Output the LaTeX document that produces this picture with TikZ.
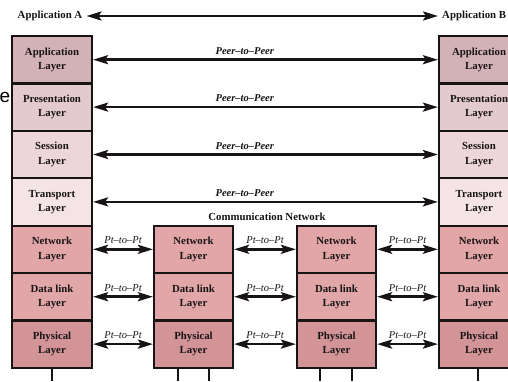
\documentclass[tikz,border=0pt]{standalone}
\usepackage{fontspec}
\setmainfont{Liberation Serif}
\newfontfamily\slidefont{Liberation Sans}
\usetikzlibrary{arrows.meta}
\definecolor{capp}{RGB}{210,178,182}
\definecolor{cpres}{RGB}{227,202,206}
\definecolor{csess}{RGB}{236,214,217}
\definecolor{ctrans}{RGB}{244,228,230}
\definecolor{cnet}{RGB}{226,166,168}
\definecolor{cdl}{RGB}{224,166,168}
\definecolor{cphys}{RGB}{210,148,151}
\definecolor{ink}{RGB}{25,20,20}
\tikzset{
  layer/.style={draw=ink, line width=2.2pt, minimum width=80pt, minimum height=47.4pt,
    inner sep=0pt, align=center, text=ink,
    font=\fontsize{10.8}{14.5}\selectfont\bfseries},
  midlayer/.style={layer, minimum width=79pt},
  link/.style={line width=2.6pt, draw=ink, {Stealth[length=15pt,width=9pt,inset=3pt]}-{Stealth[length=15pt,width=9pt,inset=3pt]}},
  peerlbl/.style={font=\fontsize{10.5}{12}\selectfont\bfseries\itshape, text=ink, inner sep=0pt},
  ptlbl/.style={font=\fontsize{10.5}{12}\selectfont\itshape, text=ink, inner sep=0pt},
  toplbl/.style={font=\fontsize{10.8}{12}\selectfont\bfseries, text=ink, inner sep=0pt},
  wire/.style={line width=2.4pt, draw=ink}
}
\begin{document}
\begin{tikzpicture}[x=1pt,y=-1pt]
\useasboundingbox (0,0) rectangle (508,381);
\clip (0,0) rectangle (508,381);
% fragment of slide text
\node[font=\slidefont\fontsize{19}{19}\selectfont, anchor=west, inner sep=0pt, text=black] (frag) at (-0.5,97) {e};
% top labels
\node[toplbl, anchor=center] (appA) at (50,16) {Application A};
\node[toplbl, anchor=west] (appB) at (442,16) {Application B};
\draw[link, shorten <=4pt, shorten >=4pt] (appA.east) -- (appB.west);
% stacks: left (x=52), right (x=479)
\foreach \nm/\cx in {L/52,R/479}{
  \node[layer, fill=capp]   (\nm1) at (\cx,59.7)  {Application\\Layer};
  \node[layer, fill=cpres]  (\nm2) at (\cx,107.1) {Presentation\\Layer};
  \node[layer, fill=csess]  (\nm3) at (\cx,154.5) {Session\\Layer};
  \node[layer, fill=ctrans] (\nm4) at (\cx,201.9) {Transport\\Layer};
  \node[layer, fill=cnet]   (\nm5) at (\cx,249.3) {Network\\Layer};
  \node[layer, fill=cdl]    (\nm6) at (\cx,296.7) {Data link\\Layer};
  \node[layer, fill=cphys]  (\nm7) at (\cx,344.1) {Physical\\Layer};
}
% middle stacks
\foreach \nm/\cx in {M/193.5,N/336.5}{
  \node[midlayer, fill=cnet]  (\nm5) at (\cx,249.3) {Network\\Layer};
  \node[midlayer, fill=cdl]   (\nm6) at (\cx,296.7) {Data link\\Layer};
  \node[midlayer, fill=cphys] (\nm7) at (\cx,344.1) {Physical\\Layer};
}
% peer-to-peer arrows
\foreach \i in {1,2,3,4}{
  \draw[link] (L\i.east) -- (R\i.west) node[peerlbl, pos=0.44, above=4pt] {Peer--to--Peer};
}
\node[toplbl] (comm) at (267,217) {Communication Network};
% point-to-point arrows
\foreach \i in {5,6,7}{
  \draw[link] (L\i.east) -- (M\i.west) node[ptlbl, midway, above=4pt] {Pt--to--Pt};
  \draw[link] (M\i.east) -- (N\i.west) node[ptlbl, midway, above=4pt] {Pt--to--Pt};
  \draw[link] (N\i.east) -- (R\i.west) node[ptlbl, midway, above=4pt] {Pt--to--Pt};
}
% wires below physical layers
\coordinate (w1) at (52,381);
\coordinate (w2) at (178,381);
\coordinate (w3) at (209,381);
\coordinate (w4) at (320,381);
\coordinate (w5) at (352,381);
\coordinate (w6) at (478,381);
\draw[wire] (L7.south) -- (w1);
\draw[wire] (M7.south -| w2) -- (w2);
\draw[wire] (M7.south -| w3) -- (w3);
\draw[wire] (N7.south -| w4) -- (w4);
\draw[wire] (N7.south -| w5) -- (w5);
\draw[wire] (R7.south -| w6) -- (w6);
\end{tikzpicture}
\end{document}
